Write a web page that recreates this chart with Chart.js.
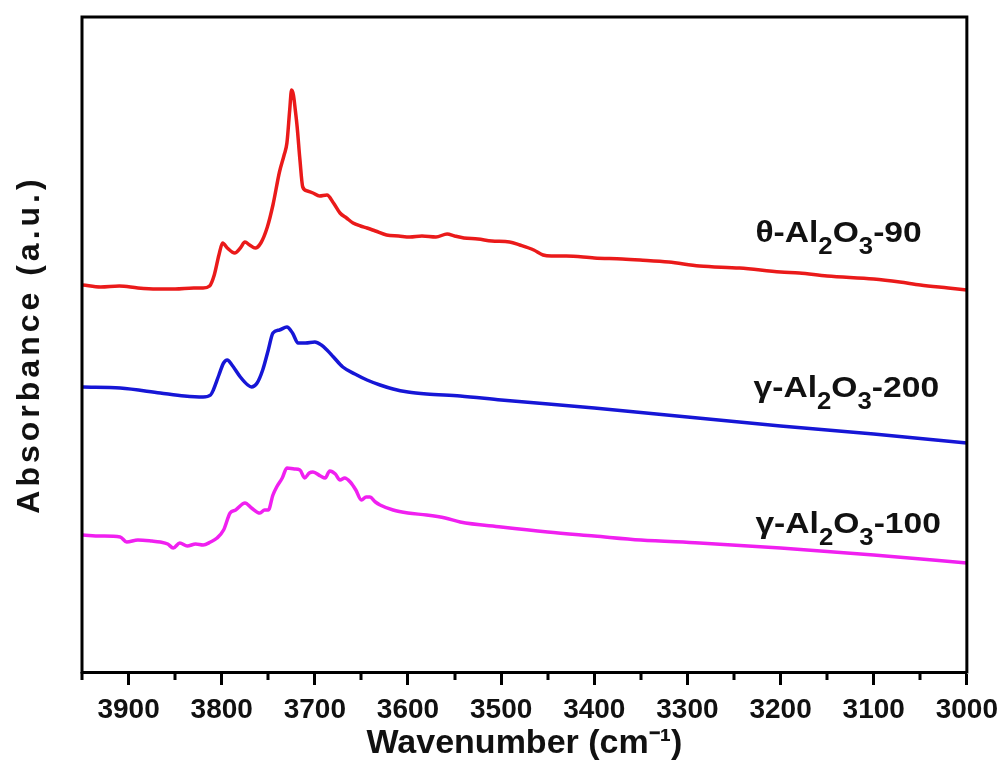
<!DOCTYPE html>
<html>
<head>
<meta charset="utf-8">
<script src="https://cdn.jsdelivr.net/npm/chart.js@4/dist/chart.umd.min.js"></script>
<style>
html,body{margin:0;padding:0;background:#fff;}
#c{display:block;}
</style>
</head>
<body>
<canvas id="c" width="1006" height="765"></canvas>
<script>
// ---- Data (wavenumber in cm-1, absorbance in arbitrary units) ----
const redWavenumber = [3949,3930,3910,3890,3870,3850,3830,3820,3813,3808,3803,3799,3794,3786,3780,3775,3770,3764,3758,3751,3745,3738,3733,3730,3727,3725,3723,3721,3719,3716,3713,3708,3702,3695,3687,3680,3673,3666,3659,3651,3644,3635,3623,3610,3598,3585,3570,3558,3550,3540,3525,3510,3491,3480,3465,3455,3446,3430,3400,3370,3351,3320,3287,3244,3200,3180,3150,3100,3072,3050,3020,3000];
const redAbsorbance = [3.87,3.85,3.86,3.84,3.83,3.83,3.84,3.84,3.86,3.97,4.17,4.29,4.24,4.19,4.24,4.30,4.27,4.24,4.29,4.45,4.67,5.00,5.17,5.29,5.62,5.82,5.77,5.62,5.45,5.12,4.85,4.81,4.79,4.76,4.77,4.69,4.59,4.54,4.49,4.46,4.44,4.41,4.37,4.36,4.35,4.36,4.35,4.38,4.36,4.34,4.33,4.31,4.30,4.27,4.22,4.17,4.16,4.16,4.14,4.13,4.12,4.10,4.06,4.04,4.00,3.99,3.96,3.93,3.90,3.87,3.84,3.82];

const blueWavenumber = [3949,3909,3866,3840,3820,3812,3809,3803,3798,3794,3789,3780,3772,3768,3762,3756,3750,3745,3738,3730,3724,3718,3710,3700,3693,3687,3680,3670,3657,3644,3630,3616,3600,3580,3544,3500,3400,3300,3200,3100,3000];
const blueAbsorbance = [2.85,2.84,2.79,2.76,2.75,2.77,2.82,2.97,3.09,3.12,3.07,2.95,2.87,2.85,2.89,3.02,3.22,3.39,3.42,3.45,3.39,3.29,3.29,3.30,3.27,3.22,3.15,3.05,2.98,2.92,2.87,2.83,2.80,2.78,2.76,2.72,2.64,2.55,2.46,2.38,2.29];

const magentaWavenumber = [3949,3930,3909,3902,3890,3875,3866,3858,3852,3845,3837,3828,3820,3812,3805,3798,3791,3785,3775,3768,3759,3754,3750,3745,3741,3735,3730,3722,3716,3711,3706,3702,3694,3689,3684,3678,3673,3668,3662,3656,3650,3645,3641,3635,3630,3616,3600,3580,3560,3544,3500,3450,3400,3350,3287,3200,3100,3000];
const magentaAbsorbance = [1.37,1.36,1.35,1.30,1.32,1.31,1.30,1.28,1.24,1.29,1.26,1.28,1.27,1.30,1.34,1.42,1.59,1.62,1.69,1.64,1.59,1.62,1.62,1.77,1.85,1.94,2.04,2.03,2.02,1.94,1.99,2.00,1.96,1.94,2.01,1.98,1.92,1.94,1.90,1.82,1.72,1.75,1.75,1.70,1.67,1.62,1.59,1.57,1.54,1.50,1.45,1.40,1.36,1.32,1.29,1.24,1.17,1.09];

const seriesNames = ['θ-Al2O3-90', 'γ-Al2O3-200', 'γ-Al2O3-100'];
// rich-text parts of each curve label: [text, isSubscript]
const labelParts = [
  [['θ-Al',0],['2',1],['O',0],['3',1],['-90',0]],
  [['γ-Al',0],['2',1],['O',0],['3',1],['-200',0]],
  [['γ-Al',0],['2',1],['O',0],['3',1],['-100',0]]
];
const labelAnchorX = [3227, 3229, 3227];
const labelAnchorY = [4.30, 2.75, 1.39];

const xTickMin = 3000, xTickMax = 3950, xMajorStep = 100, xMinorStep = 50;
const yMin = 0, yMax = 6.55;

const colors = ['#ea1a1a', '#1616d6', '#f020f0'];

function toPoints(xs, ys){ return xs.map((x,i)=>({x:x, y:ys[i]})); }

const FONT = '"Liberation Sans", Arial, Helvetica, sans-serif';

const framePlugin = {
  id: 'frame',
  afterDatasetsDraw(chart){
    // the y-scale layer (its title) is drawn after the datasets: widen its letter spacing
    chart.ctx.letterSpacing = '4px';
  },
  afterDraw(chart){
    const ctx = chart.ctx, a = chart.chartArea, xs = chart.scales.x;
    ctx.letterSpacing = '0px';
    ctx.save();
    ctx.strokeStyle = '#000';
    ctx.lineWidth = 3;
    ctx.lineCap = 'square';
    ctx.beginPath();
    ctx.moveTo(a.left, a.bottom); ctx.lineTo(a.left, a.top);
    ctx.lineTo(a.right, a.top); ctx.lineTo(a.right, a.bottom);
    ctx.stroke();
    // minor ticks
    ctx.lineCap = 'butt';
    ctx.beginPath();
    for (let v = xTickMin + xMinorStep; v <= xTickMax; v += xMajorStep){
      const px = Math.round(xs.getPixelForValue(v));
      ctx.moveTo(px, a.bottom); ctx.lineTo(px, a.bottom + 8);
    }
    ctx.stroke();
    // curve labels with subscripts
    const size = 30, stretch = 1.12;
    ctx.fillStyle = '#111';
    ctx.textBaseline = 'alphabetic';
    ctx.textAlign = 'left';
    labelParts.forEach((parts, i) => {
      const x0 = xs.getPixelForValue(labelAnchorX[i]);
      const y = chart.scales.y.getPixelForValue(labelAnchorY[i]);
      ctx.save();
      ctx.translate(x0, y);
      ctx.scale(stretch, 1);
      let x = 0;
      parts.forEach(([t, sub]) => {
        const fs = sub ? Math.round(size*0.78) : size;
        ctx.font = 'bold ' + fs + 'px ' + FONT;
        ctx.fillText(t, x, sub ? size*0.4 : 0);
        x += ctx.measureText(t).width;
      });
      ctx.restore();
    });
    ctx.restore();
  }
};

new Chart(document.getElementById('c'), {
  type: 'line',
  data: {
    datasets: [
      {label: seriesNames[0], data: toPoints(redWavenumber, redAbsorbance), borderColor: colors[0]},
      {label: seriesNames[1], data: toPoints(blueWavenumber, blueAbsorbance), borderColor: colors[1]},
      {label: seriesNames[2], data: toPoints(magentaWavenumber, magentaAbsorbance), borderColor: colors[2]}
    ].map(d => Object.assign(d, {borderWidth: 3.5, pointRadius: 0, fill: false, cubicInterpolationMode: 'monotone'}))
  },
  options: {
    responsive: false,
    devicePixelRatio: 1,
    animation: false,
    layout: {padding: {left: 0, right: 39, top: 17, bottom: 0}},
    plugins: {legend: {display: false}, tooltip: {enabled: false}},
    scales: {
      x: {
        type: 'linear', min: xTickMin, max: xTickMax, reverse: true,
        afterFit(s){ s.height = 93; },
        ticks: {stepSize: xMajorStep, includeBounds: false, color: '#111', padding: 8,
                callback: v => String(v),
                font: {family: FONT, weight: 'bold', size: 28}},
        grid: {drawOnChartArea: false, drawTicks: true, tickLength: 13, tickWidth: 3, tickColor: '#000'},
        border: {display: true, width: 3, color: '#000'},
        title: {display: true, text: 'Wavenumber (cm⁻¹)', color: '#111', padding: {top: 0, bottom: 1},
                font: {family: FONT, weight: 'bold', size: 34}}
      },
      y: {
        min: yMin, max: yMax,
        afterFit(s){ s.width = 82; },
        ticks: {display: false},
        grid: {display: false, drawTicks: false, z: 1},
        border: {display: false},
        title: {display: true, text: 'Absorbance (a.u.)', color: '#111', padding: {top: 11, bottom: 0},
                font: {family: FONT, weight: 'bold', size: 32}}
      }
    }
  },
  plugins: [framePlugin]
});
</script>
</body>
</html>
